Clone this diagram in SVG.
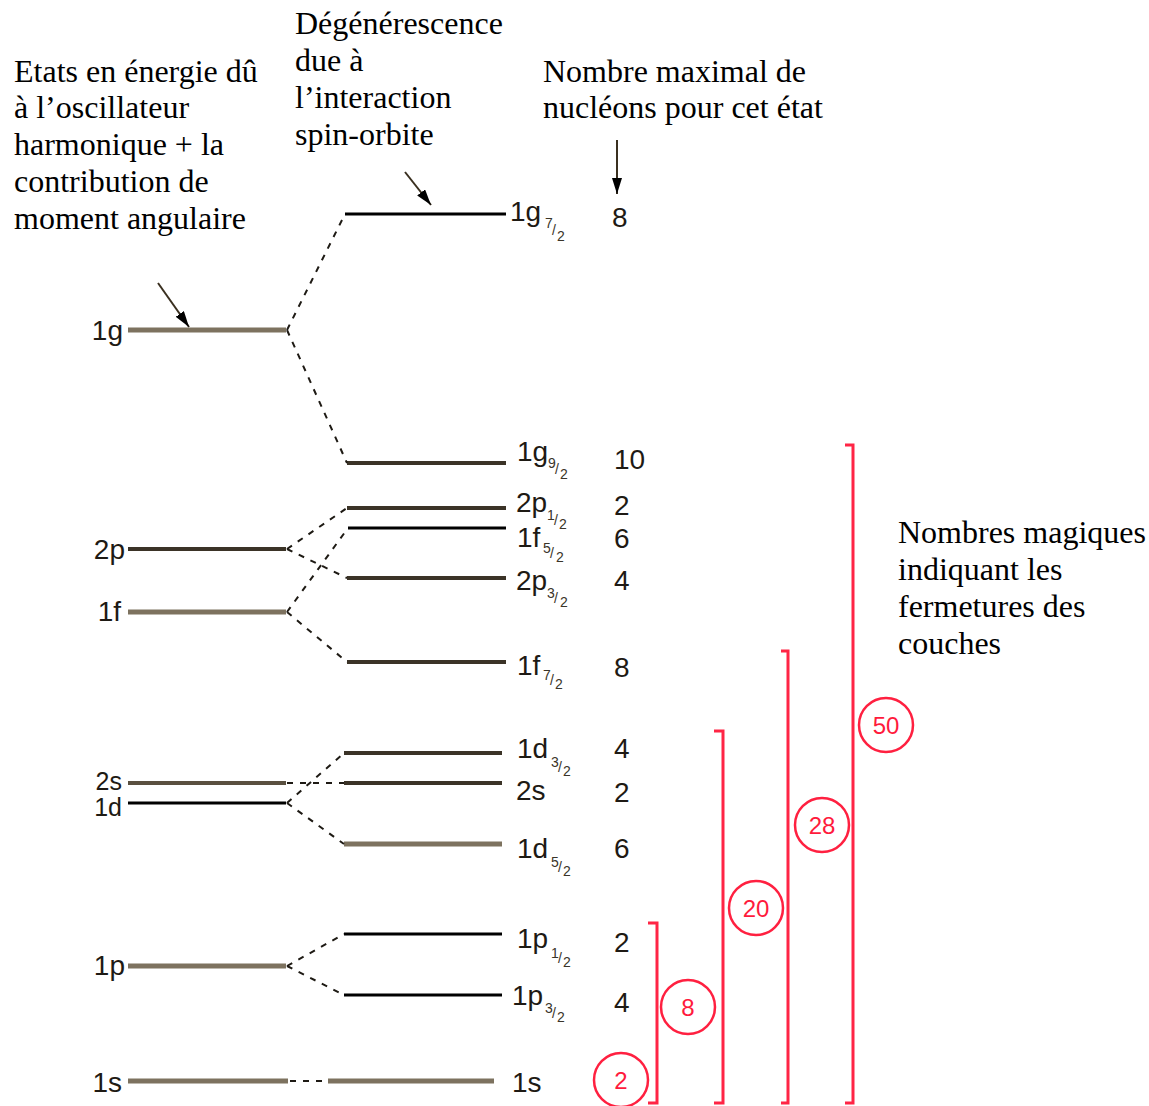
<svg xmlns="http://www.w3.org/2000/svg" width="1149" height="1106" viewBox="0 0 1149 1106">
<style>
.note{font-family:"Liberation Serif","Times New Roman",serif;font-size:32px;fill:#000}
.lbl{font-family:"Liberation Sans",Arial,sans-serif;font-size:28px;fill:#1e1a14}
.sm{font-size:25px}
.sub{font-family:"Liberation Sans",Arial,sans-serif;font-size:14px;fill:#3a3428}
.num{font-family:"Liberation Sans",Arial,sans-serif;font-size:28px;fill:#1e1a14}
.gray{stroke:#7d725f;stroke-width:5;fill:none}
.dark{stroke:#3b3327;stroke-width:4;fill:none}
.blk{stroke:#000;stroke-width:3;fill:none}
.dash{stroke:#1e1a14;stroke-width:2;stroke-dasharray:6 7;fill:none}
.arr{stroke:#3a3020;stroke-width:2;fill:none}
.brk{stroke:#ff2545;stroke-width:3;fill:none}
.mc{stroke:#ff2040;stroke-width:2.5;fill:#fff}
.mt{font-family:"Liberation Sans",Arial,sans-serif;font-size:24px;fill:#ff1a3c;text-anchor:middle}
</style>
<defs>
<marker id="ah" viewBox="0 0 16 10" refX="16" refY="5" markerWidth="16" markerHeight="10" markerUnits="userSpaceOnUse" orient="auto">
<path d="M0,0 L16,5 L0,10 z" fill="#000"/>
</marker>
</defs>

<g id="notes">
<text class="note" x="14" y="82">Etats en énergie dû</text>
<text class="note" x="14" y="118">à l’oscillateur</text>
<text class="note" x="14" y="155">harmonique + la</text>
<text class="note" x="14" y="192">contribution de</text>
<text class="note" x="14" y="229">moment angulaire</text>
<text class="note" x="295" y="34">Dégénérescence</text>
<text class="note" x="295" y="71">due à</text>
<text class="note" x="295" y="108">l’interaction</text>
<text class="note" x="295" y="145">spin-orbite</text>
<text class="note" x="543" y="82">Nombre maximal de</text>
<text class="note" x="543" y="118">nucléons pour cet état</text>
<text class="note" x="898" y="543">Nombres magiques</text>
<text class="note" x="898" y="580">indiquant les</text>
<text class="note" x="898" y="617">fermetures des</text>
<text class="note" x="898" y="654">couches</text>
</g>

<g id="left-levels">
<g id="L1g"><line class="gray" x1="128" y1="330" x2="286" y2="330"/><text class="lbl" x="123" y="340" text-anchor="end">1g</text></g>
<g id="L2p"><line class="dark" x1="128" y1="549" x2="286" y2="549"/><text class="lbl" x="125" y="559" text-anchor="end">2p</text></g>
<g id="L1f"><line class="gray" x1="128" y1="612" x2="286" y2="612"/><text class="lbl" x="121" y="621" text-anchor="end">1f</text></g>
<g id="L2s"><line stroke="#5a5040" stroke-width="4" x1="128" y1="783" x2="286" y2="783"/><text class="lbl sm" x="122" y="790" text-anchor="end">2s</text></g>
<g id="L1d"><line class="blk" x1="128" y1="803" x2="286" y2="803"/><text class="lbl sm" x="122" y="816" text-anchor="end">1d</text></g>
<g id="L1p"><line class="gray" x1="128" y1="966" x2="286" y2="966"/><text class="lbl" x="125" y="975" text-anchor="end">1p</text></g>
<g id="L1s"><line class="gray" x1="128" y1="1081" x2="288" y2="1081"/><text class="lbl" x="122" y="1092" text-anchor="end">1s</text></g>
</g>

<g id="right-levels">
<g id="R1g72"><line class="blk" x1="345" y1="214" x2="506" y2="214"/><text class="lbl" x="510" y="221">1g</text><text class="sub"><tspan x="545" y="228">7</tspan><tspan x="552" y="235">/</tspan><tspan x="557" y="241">2</tspan></text></g>
<g id="R1g92"><line class="dark" x1="347" y1="463" x2="506" y2="463"/><text class="lbl" x="517" y="461">1g</text><text class="sub"><tspan x="548" y="468">9</tspan><tspan x="555" y="474">/</tspan><tspan x="560" y="479">2</tspan></text></g>
<g id="R2p12"><line class="dark" x1="347" y1="508" x2="506" y2="508"/><text class="lbl" x="516" y="512">2p</text><text class="sub"><tspan x="547" y="520">1</tspan><tspan x="554" y="525">/</tspan><tspan x="559" y="529">2</tspan></text></g>
<g id="R1f52"><line class="blk" x1="348" y1="528" x2="506" y2="528"/><text class="lbl" x="517" y="547">1f</text><text class="sub"><tspan x="543" y="553">5</tspan><tspan x="550" y="558">/</tspan><tspan x="556" y="562">2</tspan></text></g>
<g id="R2p32"><line class="dark" x1="347" y1="578" x2="506" y2="578"/><text class="lbl" x="516" y="590">2p</text><text class="sub"><tspan x="547" y="598">3</tspan><tspan x="554" y="603">/</tspan><tspan x="560" y="607">2</tspan></text></g>
<g id="R1f72"><line class="dark" stroke-width="3" x1="347" y1="662" x2="506" y2="662"/><text class="lbl" x="517" y="675">1f</text><text class="sub"><tspan x="543" y="680">7</tspan><tspan x="550" y="685">/</tspan><tspan x="555" y="689">2</tspan></text></g>
<g id="R1d32"><line class="dark" x1="344" y1="753" x2="502" y2="753"/><text class="lbl" x="517" y="758">1d</text><text class="sub"><tspan x="551" y="767">3</tspan><tspan x="558" y="772">/</tspan><tspan x="563" y="776">2</tspan></text></g>
<g id="R2s"><line class="dark" x1="344" y1="783" x2="502" y2="783"/><text class="lbl" x="516" y="800">2s</text></g>
<g id="R1d52"><line class="gray" stroke-width="6" x1="344" y1="844" x2="502" y2="844"/><text class="lbl" x="517" y="858">1d</text><text class="sub"><tspan x="551" y="867">5</tspan><tspan x="558" y="872">/</tspan><tspan x="563" y="876">2</tspan></text></g>
<g id="R1p12"><line class="blk" x1="344" y1="934" x2="502" y2="934"/><text class="lbl" x="517" y="948">1p</text><text class="sub"><tspan x="551" y="958">1</tspan><tspan x="558" y="963">/</tspan><tspan x="563" y="967">2</tspan></text></g>
<g id="R1p32"><line class="blk" x1="344" y1="995" x2="502" y2="995"/><text class="lbl" x="512" y="1005">1p</text><text class="sub"><tspan x="545" y="1013">3</tspan><tspan x="552" y="1018">/</tspan><tspan x="557" y="1022">2</tspan></text></g>
<g id="R1s"><line class="gray" x1="328" y1="1081" x2="494" y2="1081"/><text class="lbl" x="512" y="1092">1s</text></g>
</g>

<g id="numbers">
<text class="num" x="612" y="227">8</text>
<text class="num" x="614" y="469">10</text>
<text class="num" x="614" y="515">2</text>
<text class="num" x="614" y="548">6</text>
<text class="num" x="614" y="590">4</text>
<text class="num" x="614" y="677">8</text>
<text class="num" x="614" y="758">4</text>
<text class="num" x="614" y="802">2</text>
<text class="num" x="614" y="858">6</text>
<text class="num" x="614" y="952">2</text>
<text class="num" x="614" y="1012">4</text>
</g>

<g id="connectors">
<path class="dash" d="M287,330 L345,214 M287,330 L347,463"/>
<path class="dash" d="M287,549 L347,508 M287,549 L347,578"/>
<path class="dash" d="M287,612 L348,528 M287,612 L347,662"/>
<path class="dash" stroke-width="3" d="M287,783 L344,783"/>
<path class="dash" d="M287,803 L344,753 M287,803 L344,844"/>
<path class="dash" d="M287,966 L344,934 M287,966 L344,995"/>
<path class="dash" stroke="#7d725f" stroke-width="5" d="M290,1081 L328,1081"/>
<line class="arr" x1="158" y1="283" x2="189" y2="327" marker-end="url(#ah)"/>
<line class="arr" x1="405" y1="172" x2="431" y2="205" marker-end="url(#ah)"/>
<line class="arr" x1="617" y1="140" x2="617" y2="194" marker-end="url(#ah)"/>
</g>

<g id="magic">
<path class="brk" stroke="#ff6f80" d="M648,923 H657 V1103 H648"/>
<path class="brk" d="M714,731 H723 V1103 H714"/>
<path class="brk" d="M781,651 H788 V1103 H781"/>
<path class="brk" stroke="#ff4660" d="M845,445 H853 V1103 H845"/>
<g id="m2"><circle class="mc" cx="621" cy="1080" r="27"/><text class="mt" x="621" y="1089">2</text></g>
<g id="m8"><circle class="mc" cx="688" cy="1007" r="27"/><text class="mt" x="688" y="1016">8</text></g>
<g id="m20"><circle class="mc" cx="756" cy="908" r="27"/><text class="mt" x="756" y="917">20</text></g>
<g id="m28"><circle class="mc" cx="822" cy="825" r="27"/><text class="mt" x="822" y="834">28</text></g>
<g id="m50"><circle class="mc" cx="886" cy="725" r="27"/><text class="mt" x="886" y="734">50</text></g>
</g>
</svg>
